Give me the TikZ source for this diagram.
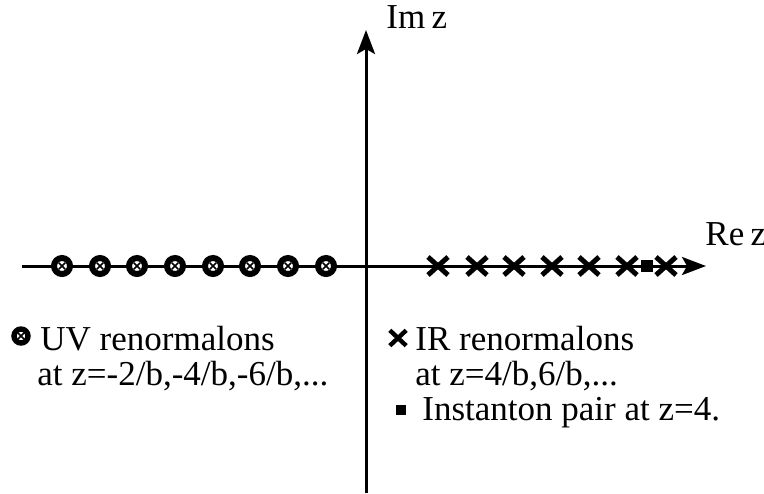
\documentclass[tikz,border=0pt]{standalone}
\usepackage{fontspec}
\setmainfont{Liberation Serif}
\usetikzlibrary{arrows.meta,shapes.misc}

\tikzset{
  axis/.style={line width=1.5pt,-{Stealth[length=12pt,width=9pt,inset=2.5pt]}},
  uv/.style={circle,draw,fill=white,line width=3pt,minimum size=8pt,inner sep=0pt,
    path picture={
      \draw[line width=.8pt] ([shift={(-1.6pt,-1.6pt)}]path picture bounding box.center) -- ++(3.2pt,3.2pt);
      \draw[line width=.8pt] ([shift={(-1.6pt,1.6pt)}]path picture bounding box.center) -- ++(3.2pt,-3.2pt);}},
  ir/.style={cross out,draw,line width=2.5pt,minimum width=7.5pt,minimum height=6.5pt,inner sep=0pt},
  inst/.style={rectangle,fill,minimum size=6pt,inner sep=0pt},
  lab/.style={anchor=base west,inner sep=0pt,font=\fontsize{17.5}{21}\selectfont}
}

\begin{document}
\begin{tikzpicture}[x=0.5pt,y=-0.5pt]
\useasboundingbox (0,0) rectangle (764,493);

%assi
\coordinate (xl) at (22,266);
\coordinate (xr) at (706,266);
\coordinate (yb) at (366,493);
\coordinate (yt) at (366,30);
\draw[axis] (xl) -- (xr);
\draw[axis] (yb) -- (yt);
\node[lab] (imz) at (386,28) {Im\kern.18em z};
\node[lab] (rez) at (705,245) {Re\kern.18em z};

%rinormaloni UV
\foreach \x [count=\i] in {62,100,137,175,213,250,288,326}
  \node[uv] (uv\i) at (\x,266) {};

%rinormaloni IR e istantone
\foreach \x [count=\i] in {438,477,514,552,589,627,666}
  \node[ir] (ir\i) at (\x,266) {};
\node[inst] (ist) at (647,266) {};

%legenda
\node[uv,minimum size=7pt,line width=2.7pt] (uvkey) at (21,336) {};
\node[lab] (uvtxt) at (40,350) {UV renormalons};
\node[lab] (uvat) at (37,385) {at z=-2/b,-4/b,-6/b,...};

\node[ir,minimum width=6pt,minimum height=5.5pt,line width=2.2pt] (irkey) at (398,338) {};
\node[lab] (irtxt) at (415,350) {IR renormalons};
\node[lab] (irat) at (415,385) {at z=4/b,6/b,...};

\node[inst,minimum size=5pt] (istkey) at (401,410) {};
\node[lab] (isttxt) at (422,420) {Instanton pair at z=4.};

\end{tikzpicture}
\end{document}
